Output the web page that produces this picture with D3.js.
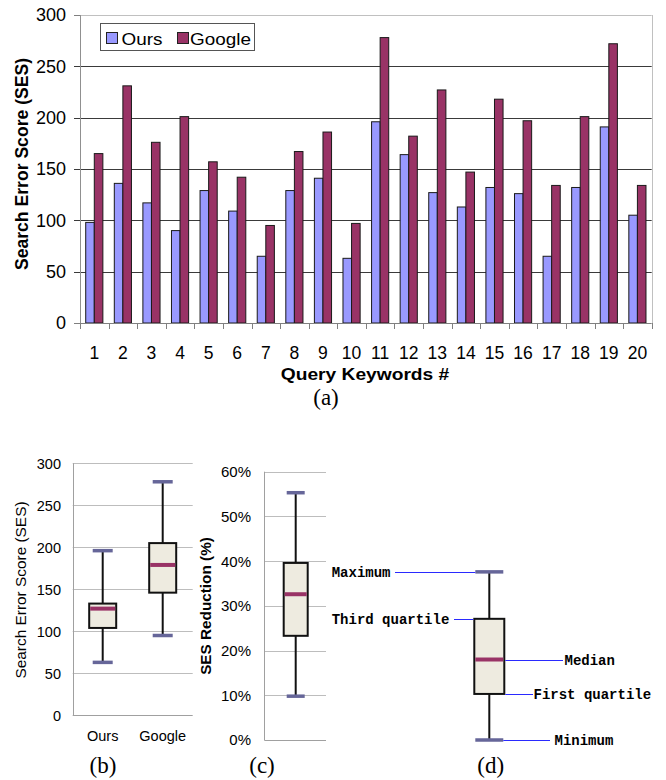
<!DOCTYPE html>
<html>
<head>
<meta charset="utf-8">
<script src="https://cdn.jsdelivr.net/npm/d3@7"></script>
<style>
  html, body { margin: 0; padding: 0; background: #fff; }
  svg { display: block; }
  text { font-family: "Liberation Sans", Arial, sans-serif; fill: #000; }
  .serif { font-family: "Liberation Serif", "Times New Roman", serif; }
  .mono { font-family: "Liberation Mono", "Courier New", monospace; font-weight: bold; }
</style>
</head>
<body>
<svg id="chart" width="666" height="780"></svg>
<script>
// ---------- data ----------
const queries = ["1","2","3","4","5","6","7","8","9","10","11","12","13","14","15","16","17","18","19","20"];
const seriesNames = ["Ours", "Google"];
const oursSES   = [98, 136, 117, 90, 129, 109, 65, 129, 141, 63, 196, 164, 127, 113, 132, 126, 65, 132, 191, 105];
const googleSES = [165, 231, 176, 201, 157, 142, 95, 167, 186, 97, 278, 182, 227, 147, 218, 197, 134, 201, 272, 134];
const sesTicks = [0, 50, 100, 150, 200, 250, 300];

// box plot stats: [min, q1, median, q3, max]
const boxCategories = ["Ours", "Google"];
const oursBox   = [63, 104, 127, 133, 196];
const googleBox = [95, 146, 179, 205, 278];
const reductionBox = [9.8, 23.3, 32.6, 39.6, 55.3];
const reductionTicks = [0, 10, 20, 30, 40, 50, 60];
const exampleBox = [0, 10.3, 18, 27.1, 37.6];
const exampleLabels = ["Minimum", "First quartile", "Median", "Third quartile", "Maximum"];

// ---------- styles ----------
const C_OURS = "#9999FF", C_GOOGLE = "#993366";
const C_BOX = "#EEEBE0", C_MED = "#993366", C_CAP = "#666699", C_ANN = "#2a2aff";

const svg = d3.select("#chart");
const crisp = v => Math.round(v) + 0.5;

// ================= Panel (a) =================
{
  const L = 80, R = 651.7, T = 15, B = 323;
  const x = d3.scaleBand().domain(queries).range([L, R]).paddingInner(0.4).paddingOuter(0.2);
  const xs = d3.scaleBand().domain(seriesNames).range([0, x.bandwidth()]);
  const y = d3.scaleLinear().domain([0, 300]).range([B, T]);
  const g = svg.append("g");

  // plot border (top/right) light gray
  g.append("line").attr("x1", L).attr("x2", R).attr("y1", crisp(y(300))).attr("y2", crisp(y(300))).attr("stroke", "#c0c0c0");
  g.append("line").attr("x1", crisp(R)).attr("x2", crisp(R)).attr("y1", y(300)).attr("y2", y(0)).attr("stroke", "#c0c0c0");

  // gridlines
  g.selectAll(".grid").data(sesTicks.filter(d => d > 0 && d < 300)).join("line")
    .attr("x1", L - 6).attr("x2", R).attr("y1", d => crisp(y(d))).attr("y2", d => crisp(y(d)))
    .attr("stroke", "#3a3a3a").attr("stroke-width", 1);
  // end ticks
  g.selectAll(".tk").data([0, 300]).join("line")
    .attr("x1", L - 6).attr("x2", L).attr("y1", d => crisp(y(d))).attr("y2", d => crisp(y(d)))
    .attr("stroke", "#808080");

  // bars
  const data = queries.map((q, i) => ({ q, vals: [oursSES[i], googleSES[i]] }));
  const grp = g.selectAll(".grp").data(data).join("g").attr("transform", d => `translate(${x(d.q)},0)`);
  grp.selectAll("rect").data(d => d.vals.map((v, j) => ({ s: seriesNames[j], v }))).join("rect")
    .attr("x", d => xs(d.s)).attr("width", xs.bandwidth())
    .attr("y", d => y(d.v)).attr("height", d => y(0) - y(d.v))
    .attr("fill", d => d.s === "Ours" ? C_OURS : C_GOOGLE)
    .attr("stroke", "#1a1a1a").attr("stroke-width", 1);

  // axes lines
  g.append("line").attr("x1", crisp(L)).attr("x2", crisp(L)).attr("y1", T).attr("y2", B).attr("stroke", "#909090");
  g.append("line").attr("x1", L).attr("x2", R).attr("y1", crisp(B)).attr("y2", crisp(B)).attr("stroke", "#808080");
  const step = x.step();
  g.selectAll(".xt").data(d3.range(queries.length + 1)).join("line")
    .attr("x1", i => crisp(L + i * step)).attr("x2", i => crisp(L + i * step))
    .attr("y1", B).attr("y2", B + 6).attr("stroke", "#808080");

  // tick labels
  g.selectAll(".yl").data(sesTicks).join("text")
    .attr("x", 66).attr("y", d => y(d)).attr("dy", "0.36em")
    .attr("text-anchor", "end").attr("font-size", 18).text(d => d);
  g.selectAll(".xl").data(queries).join("text")
    .attr("x", d => x(d) + x.bandwidth() / 2).attr("y", 359)
    .attr("text-anchor", "middle").attr("font-size", 17.5).text(d => d);

  // titles
  g.append("text").attr("transform", "translate(365,380) scale(1.2,1)").attr("text-anchor", "middle")
    .attr("font-size", 16).attr("font-weight", "bold").text("Query Keywords #");
  g.append("text").attr("transform", "translate(27.5,164) rotate(-90)").attr("text-anchor", "middle")
    .attr("font-size", 17.6).attr("font-weight", "bold").text("Search Error Score (SES)");
  g.append("text").attr("class", "serif").attr("x", 326).attr("y", 405).attr("text-anchor", "middle")
    .attr("font-size", 23).text("(a)");

  // legend
  const lg = g.append("g");
  lg.append("rect").attr("x", 100.5).attr("y", 23.5).attr("width", 154).attr("height", 27)
    .attr("fill", "#fff").attr("stroke", "#555");
  const items = [{ s: "Ours", sx: 106, tx: 121.5, c: C_OURS }, { s: "Google", sx: 177, tx: 190, c: C_GOOGLE }];
  lg.selectAll(".sw").data(items).join("rect")
    .attr("x", d => d.sx + 0.5).attr("y", 32.5).attr("width", 11).attr("height", 11)
    .attr("fill", d => d.c).attr("stroke", "#222");
  lg.selectAll(".lt").data(items).join("text")
    .attr("transform", d => `translate(${d.tx},44.5) scale(1.16,1)`)
    .attr("font-size", 16.3).text(d => d.s);
}

// ---------- box drawing helper ----------
function drawBox(g, cx, stats, y, boxW, capW) {
  const [mn, q1, md, q3, mx] = stats;
  g.append("line").attr("x1", cx).attr("x2", cx).attr("y1", y(mx)).attr("y2", y(mn))
    .attr("stroke", "#111").attr("stroke-width", 2);
  g.append("rect").attr("x", cx - boxW / 2).attr("y", y(q3)).attr("width", boxW).attr("height", y(q1) - y(q3))
    .attr("fill", C_BOX).attr("stroke", "#111").attr("stroke-width", 2);
  g.append("line").attr("x1", cx - boxW / 2 + 1).attr("x2", cx + boxW / 2 - 1).attr("y1", y(md)).attr("y2", y(md))
    .attr("stroke", C_MED).attr("stroke-width", 4);
  [mn, mx].forEach(v => g.append("line").attr("x1", cx - capW / 2).attr("x2", cx + capW / 2)
    .attr("y1", y(v)).attr("y2", y(v)).attr("stroke", C_CAP).attr("stroke-width", 3.5));
}

// ================= Panel (b) =================
{
  const L = 72.7, R = 192.7, T = 463.3, B = 715.3;
  const y = d3.scaleLinear().domain([0, 300]).range([B, T]);
  const x = d3.scaleBand().domain(boxCategories).range([L, R]);
  const g = svg.append("g");
  g.selectAll(".grid").data(sesTicks.filter(d => d > 0)).join("line")
    .attr("x1", L).attr("x2", R).attr("y1", d => crisp(y(d))).attr("y2", d => crisp(y(d))).attr("stroke", "#bdbdbd");
  g.append("line").attr("x1", crisp(L)).attr("x2", crisp(L)).attr("y1", T).attr("y2", B).attr("stroke", "#a0a0a0");
  g.append("line").attr("x1", L).attr("x2", R).attr("y1", crisp(B)).attr("y2", crisp(B)).attr("stroke", "#a0a0a0");
  g.selectAll(".yl").data(sesTicks).join("text")
    .attr("x", 61).attr("y", d => y(d)).attr("dy", "0.36em").attr("text-anchor", "end")
    .attr("font-size", 14.5).text(d => d);
  g.selectAll(".xl").data(boxCategories).join("text")
    .attr("x", d => x(d) + x.bandwidth() / 2).attr("y", 741).attr("text-anchor", "middle")
    .attr("font-size", 14.5).text(d => d);
  const stats = { Ours: oursBox, Google: googleBox };
  boxCategories.forEach(c => drawBox(g, x(c) + x.bandwidth() / 2, stats[c], y, 27, 20));
  g.append("text").attr("transform", "translate(25.5,590) rotate(-90)").attr("text-anchor", "middle")
    .attr("font-size", 15.4).text("Search Error Score (SES)");
  g.append("text").attr("class", "serif").attr("x", 103).attr("y", 773).attr("text-anchor", "middle")
    .attr("font-size", 23).text("(b)");
}

// ================= Panels (c) and (d) =================
{
  const L = 264.3, R = 326, T = 471.7, B = 740;
  const y = d3.scaleLinear().domain([0, 60]).range([B, T]);
  const g = svg.append("g");
  g.selectAll(".grid").data(reductionTicks.filter(d => d > 0)).join("line")
    .attr("x1", L).attr("x2", R).attr("y1", d => crisp(y(d))).attr("y2", d => crisp(y(d))).attr("stroke", "#bdbdbd");
  g.append("line").attr("x1", crisp(L)).attr("x2", crisp(L)).attr("y1", T).attr("y2", B).attr("stroke", "#a0a0a0");
  g.append("line").attr("x1", L).attr("x2", R).attr("y1", crisp(B)).attr("y2", crisp(B)).attr("stroke", "#a0a0a0");
  g.selectAll(".yl").data(reductionTicks).join("text")
    .attr("x", 251).attr("y", d => y(d)).attr("dy", "0.36em").attr("text-anchor", "end")
    .attr("font-size", 15).text(d => d + "%");
  drawBox(g, 295.7, reductionBox, y, 24, 18);
  g.append("text").attr("transform", "translate(211,606) rotate(-90)").attr("text-anchor", "middle")
    .attr("font-size", 15.3).attr("font-weight", "bold").text("SES Reduction (%)");
  g.append("text").attr("class", "serif").attr("x", 262).attr("y", 773).attr("text-anchor", "middle")
    .attr("font-size", 23).text("(c)");

  // (d) annotated example box
  const cx = 489.3, bw = 30, cw = 28;
  drawBox(g, cx, exampleBox, y, bw, cw);
  const ann = [
    { v: exampleBox[4], label: exampleLabels[4], tx: 331.7, x1: 395, x2: cx - cw / 2 },
    { v: exampleBox[3], label: exampleLabels[3], tx: 331.7, x1: 454, x2: cx - bw / 2 - 1 },
    { v: exampleBox[2], label: exampleLabels[2], tx: 564.5, x1: cx + bw / 2 + 1, x2: 563 },
    { v: exampleBox[1], label: exampleLabels[1], tx: 533.5, x1: cx + bw / 2 + 1, x2: 533 },
    { v: exampleBox[0], label: exampleLabels[0], tx: 554.5, x1: cx + cw / 2, x2: 550 }
  ];
  g.selectAll(".annl").data(ann).join("line")
    .attr("x1", d => d.x1).attr("x2", d => d.x2).attr("y1", d => crisp(y(d.v))).attr("y2", d => crisp(y(d.v)))
    .attr("stroke", C_ANN).attr("stroke-width", 1);
  g.selectAll(".annt").data(ann).join("text").attr("class", "mono")
    .attr("x", d => d.tx).attr("y", d => y(d.v)).attr("dy", "0.36em")
    .attr("font-size", 14).text(d => d.label);
  g.append("text").attr("class", "serif").attr("x", 490.7).attr("y", 773).attr("text-anchor", "middle")
    .attr("font-size", 23).text("(d)");
}
</script>
</body>
</html>
